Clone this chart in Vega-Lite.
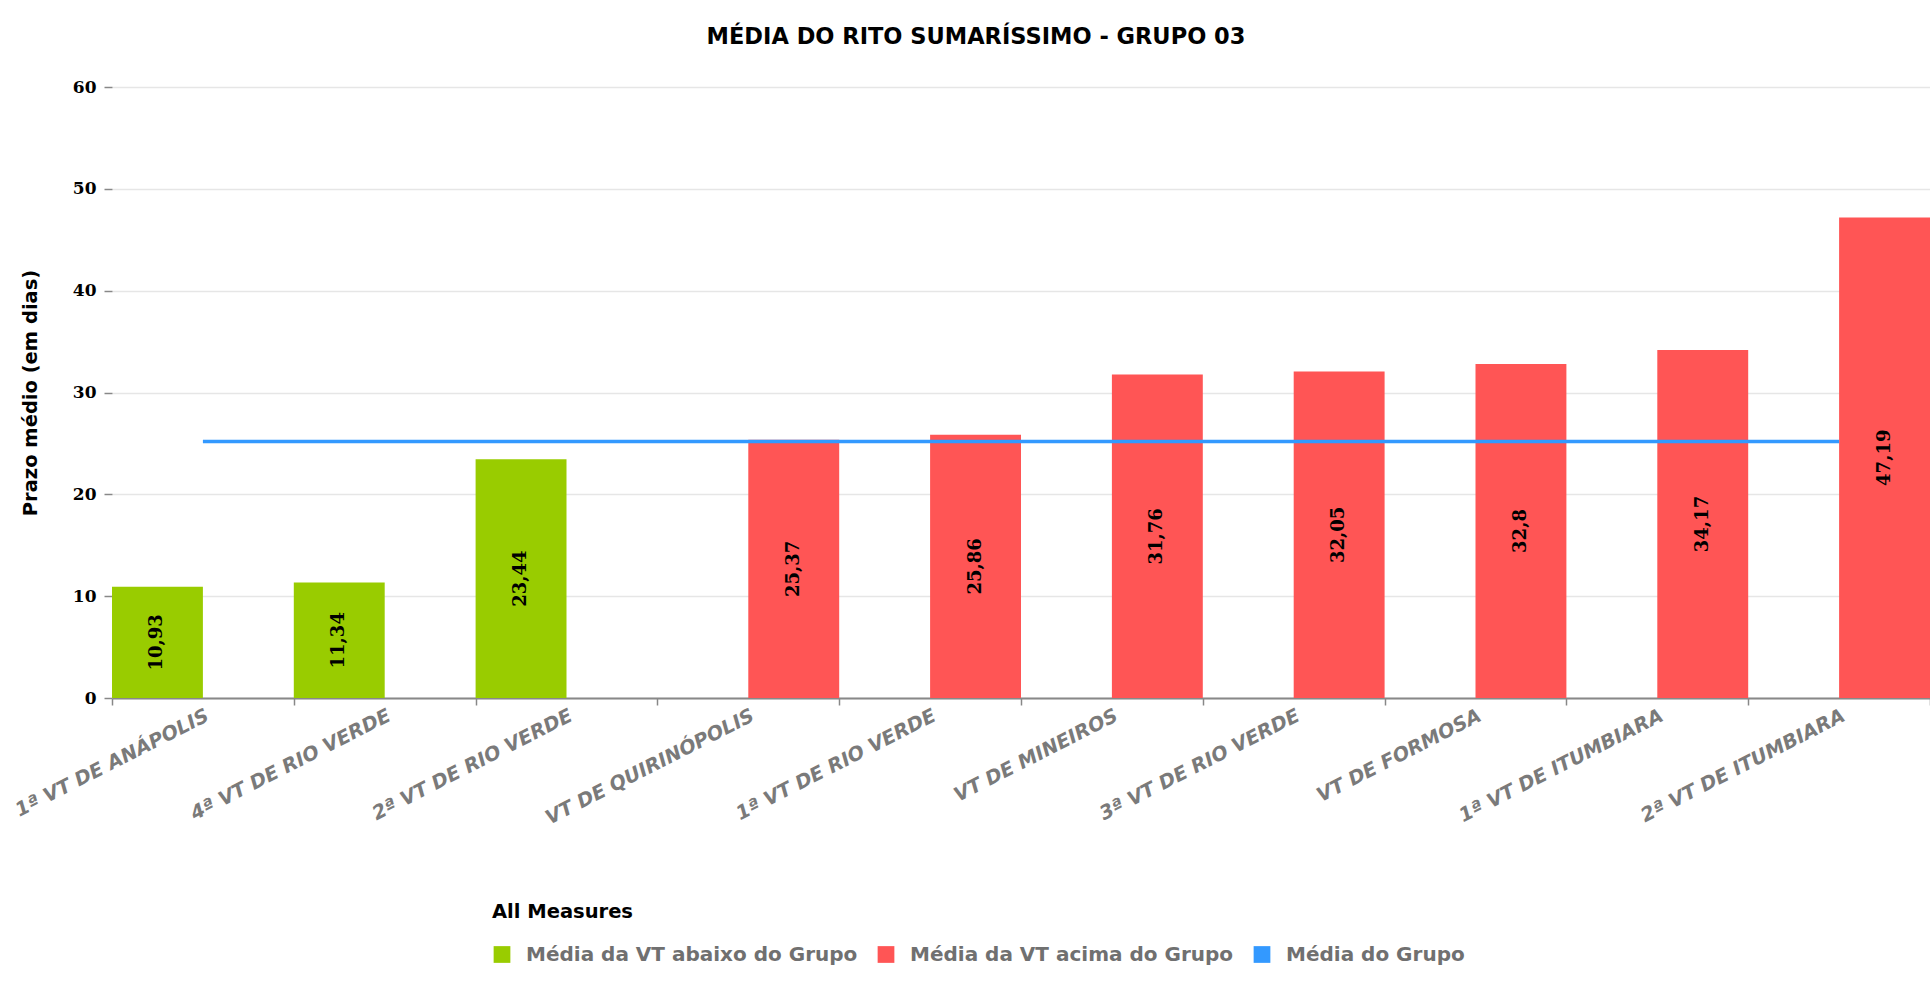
{
  "$schema": "https://vega.github.io/schema/vega-lite/v6.json",
  "width": 1818,
  "height": 611,
  "autosize": {"type": "none"},
  "padding": {"left": 112, "top": 87, "right": 0, "bottom": 292},
  "background": "white",
  "title": {
    "text": "MÉDIA DO RITO SUMARÍSSIMO - GRUPO 03",
    "font": "DejaVu Sans",
    "fontSize": 22.5,
    "fontWeight": "bold",
    "color": "#000000",
    "anchor": "middle",
    "frame": "group",
    "dx": -45,
    "offset": 30
  },
  "data": {
    "values": [
      {"vara": "1ª VT DE ANÁPOLIS", "valor": 10.93, "serie": "Média da VT abaixo do Grupo"},
      {"vara": "4ª VT DE RIO VERDE", "valor": 11.34, "serie": "Média da VT abaixo do Grupo"},
      {"vara": "2ª VT DE RIO VERDE", "valor": 23.44, "serie": "Média da VT abaixo do Grupo"},
      {"vara": "VT DE QUIRINÓPOLIS", "valor": 25.37, "serie": "Média da VT acima do Grupo"},
      {"vara": "1ª VT DE RIO VERDE", "valor": 25.86, "serie": "Média da VT acima do Grupo"},
      {"vara": "VT DE MINEIROS", "valor": 31.76, "serie": "Média da VT acima do Grupo"},
      {"vara": "3ª VT DE RIO VERDE", "valor": 32.05, "serie": "Média da VT acima do Grupo"},
      {"vara": "VT DE FORMOSA", "valor": 32.8, "serie": "Média da VT acima do Grupo"},
      {"vara": "1ª VT DE ITUMBIARA", "valor": 34.17, "serie": "Média da VT acima do Grupo"},
      {"vara": "2ª VT DE ITUMBIARA", "valor": 47.19, "serie": "Média da VT acima do Grupo"}
    ]
  },
  "layer": [
    {
      "mark": {"type": "bar"},
      "encoding": {
        "x": {
          "field": "vara",
          "type": "nominal",
          "sort": null,
          "scale": {"paddingInner": 0, "paddingOuter": 0},
          "axis": {
            "title": null,
            "tickBand": "extent",
            "grid": false,
            "domainColor": "#888888",
            "domainWidth": 2,
            "tickColor": "#888888",
            "tickSize": 7,
            "tickWidth": 1.5,
            "labelAngle": -27,
            "labelAlign": "right",
            "labelBaseline": "top",
            "labelFont": "DejaVu Sans",
            "labelFontStyle": "italic",
            "labelFontWeight": "bold",
            "labelFontSize": 19.5,
            "labelColor": "#7a7a7a",
            "labelPadding": 1,
            "labelLimit": 400
          }
        },
        "xOffset": {
          "field": "serie",
          "type": "nominal",
          "scale": {
            "domain": ["Média da VT abaixo do Grupo", "Média da VT acima do Grupo"],
            "paddingInner": 0,
            "paddingOuter": 0
          }
        },
        "y": {
          "field": "valor",
          "type": "quantitative",
          "scale": {"domain": [0, 60]},
          "axis": {
            "title": "Prazo médio (em dias)",
            "values": [0, 10, 20, 30, 40, 50, 60],
            "domain": false,
            "grid": true,
            "gridColor": "#e6e6e6",
            "gridWidth": 1.5,
            "tickColor": "#888888",
            "tickSize": 8,
            "tickWidth": 1.5,
            "labelFont": "DejaVu Serif",
            "labelFontWeight": "bold",
            "labelFontSize": 17,
            "labelColor": "#000000",
            "labelPadding": 8,
            "titleFont": "DejaVu Sans",
            "titleFontWeight": "bold",
            "titleFontSize": 19.5,
            "titleColor": "#000000",
            "titleX": -82,
            "titleBaseline": "middle"
          }
        },
        "color": {
          "field": "serie",
          "type": "nominal",
          "scale": {
            "domain": ["Média da VT abaixo do Grupo", "Média da VT acima do Grupo", "Média do Grupo"],
            "range": ["#99CC00", "#FF5555", "#3399FF"]
          },
          "legend": {
            "title": "All Measures",
            "orient": "none",
            "legendX": 380,
            "legendY": 816,
            "direction": "horizontal",
            "symbolType": "square",
            "symbolSize": 280,
            "symbolStrokeWidth": 0,
            "titleFont": "DejaVu Sans",
            "titleFontSize": 19.5,
            "titleFontWeight": "bold",
            "titleColor": "#000000",
            "titlePadding": 22,
            "labelFont": "DejaVu Sans",
            "labelFontSize": 20,
            "labelFontWeight": "bold",
            "labelColor": "#707070",
            "labelOffset": 14,
            "labelLimit": 600,
            "columnPadding": 18
          }
        }
      }
    },
    {
      "mark": {"type": "line", "strokeWidth": 3.5, "color": "#3399FF"},
      "encoding": {
        "x": {"field": "vara", "type": "nominal", "sort": null},
        "y": {"datum": 25.2, "type": "quantitative", "scale": {"domain": [0, 60]}, "axis": null}
      }
    },
    {
      "mark": {
        "type": "text",
        "angle": 270,
        "font": "DejaVu Serif",
        "fontWeight": "bold",
        "fontSize": 18,
        "color": "#000000",
        "align": "center",
        "baseline": "middle"
      },
      "encoding": {
        "x": {"field": "vara", "type": "nominal", "sort": null},
        "xOffset": {"field": "serie", "type": "nominal"},
        "y": {"field": "valor", "type": "quantitative", "scale": {"domain": [0, 120]}, "axis": null},
        "text": {"field": "valor", "type": "quantitative", "format": ".4~r"}
      }
    }
  ],
  "resolve": {"scale": {"y": "independent"}},
  "config": {
    "view": {"stroke": null},
    "locale": {"number": {"decimal": ",", "thousands": ".", "grouping": [3], "currency": ["R$", ""]}}
  }
}
